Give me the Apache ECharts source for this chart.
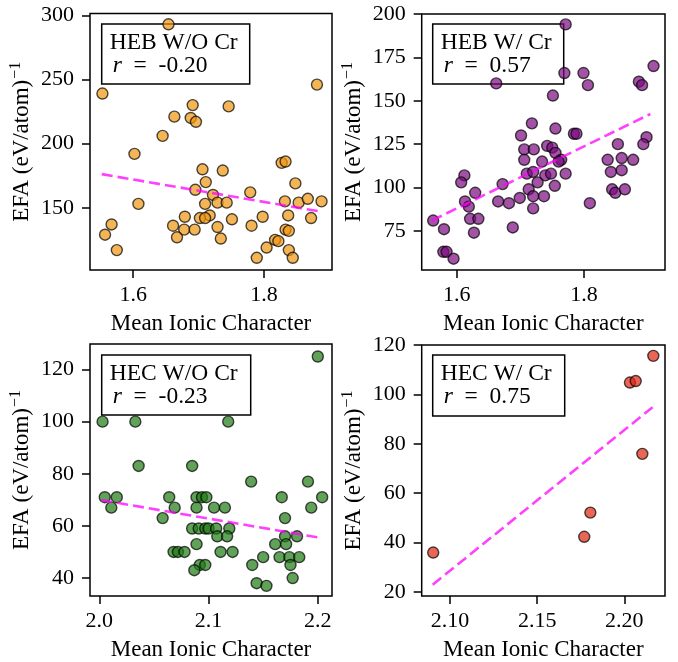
<!DOCTYPE html>
<html>
<head>
<meta charset="utf-8">
<script src="https://cdn.jsdelivr.net/npm/echarts@6/dist/echarts.min.js"></script>
<style>
  html, body { margin: 0; padding: 0; background: #fff; }
  #chart { width: 678px; height: 662px; }
</style>
</head>
<body>
<div id="chart"></div>
<script>
// HEB W/O Cr
const hebNoCrX = [1.654, 1.553, 1.881, 1.691, 1.746, 1.663, 1.688, 1.696, 1.645, 1.602, 1.827, 1.833, 1.706, 1.737, 1.711, 1.848, 1.695, 1.779, 1.722, 1.608, 1.710, 1.729, 1.743, 1.832, 1.853, 1.867, 1.888, 1.837, 1.872, 1.798, 1.781, 1.751, 1.717, 1.702, 1.710, 1.679, 1.661, 1.678, 1.694, 1.667, 1.729, 1.734, 1.557, 1.567, 1.575, 1.833, 1.838, 1.817, 1.822, 1.804, 1.838, 1.844, 1.789];
const hebNoCrY = [293, 239, 246, 230, 229, 221, 220, 217, 206, 192, 185, 186, 180, 179, 170, 169, 164, 162, 160, 153, 153, 154, 154, 155, 154, 157, 155, 144, 142, 143, 136, 141, 144, 142, 142, 143, 136, 133, 133, 127, 135, 126, 129, 137, 117, 133, 132, 125, 124, 119, 117, 111, 111];
const hebNoCrFitX = [1.552, 1.888];
const hebNoCrFitY = [176.2, 146.9];

// HEB W/ Cr
const hebCrX = [1.771, 1.909, 1.799, 1.806, 1.886, 1.891, 1.662, 1.769, 1.751, 1.718, 1.755, 1.701, 1.784, 1.788, 1.898, 1.893, 1.853, 1.706, 1.721, 1.742, 1.750, 1.755, 1.706, 1.734, 1.764, 1.760, 1.837, 1.859, 1.877, 1.842, 1.859, 1.710, 1.720, 1.739, 1.748, 1.771, 1.727, 1.754, 1.672, 1.612, 1.607, 1.629, 1.713, 1.844, 1.849, 1.864, 1.699, 1.720, 1.737, 1.665, 1.682, 1.613, 1.619, 1.720, 1.809, 1.563, 1.621, 1.634, 1.580, 1.627, 1.688, 1.579, 1.584, 1.595];
const hebCrY = [194, 170, 166, 159, 161, 159, 160, 166, 153, 137, 134, 130, 131, 131, 129, 125, 125, 122, 122, 124, 123, 120, 116, 115, 116, 115, 116, 117, 116, 109, 110, 108, 109, 107, 108, 108, 103, 101, 102, 107, 103, 97, 99, 99, 97, 99, 94, 95, 95, 92, 91, 92, 89, 88, 91, 81, 82, 82, 76, 74, 77, 63, 63, 59];
const hebCrFitX = [1.561, 1.904];
const hebCrFitY = [81.0, 142.4];

// HEC W/O Cr
const hecNoCrX = [2.200, 2.003, 2.033, 2.118, 2.036, 2.085, 2.139, 2.191, 2.005, 2.016, 2.011, 2.064, 2.069, 2.058, 2.089, 2.094, 2.098, 2.089, 2.105, 2.115, 2.167, 2.204, 2.194, 2.170, 2.085, 2.091, 2.097, 2.100, 2.107, 2.119, 2.108, 2.117, 2.170, 2.181, 2.089, 2.161, 2.171, 2.068, 2.072, 2.078, 2.111, 2.122, 2.150, 2.165, 2.174, 2.183, 2.175, 2.140, 2.092, 2.087, 2.097, 2.177, 2.144, 2.153];
const hecNoCrY = [125, 100, 100, 100, 83, 83, 77, 77, 71, 71, 67, 71, 67, 63, 71, 71, 71, 67, 67, 67, 71, 71, 67, 63, 59, 59, 59, 59, 59, 59, 56, 56, 56, 56, 53, 53, 53, 50, 50, 50, 50, 50, 48, 48, 48, 48, 45, 45, 45, 43, 45, 40, 38, 37];
const hecNoCrFitX = [2.002, 2.204];
const hecNoCrFitY = [69.9, 55.3];

// HEC W/ Cr
const hecCrX = [2.0904, 2.1770, 2.1805, 2.2032, 2.2065, 2.2103, 2.2166];
const hecCrY = [35.9, 42.3, 52.1, 104.8, 105.4, 75.9, 115.6];
const hecCrFitX = [2.0901, 2.2162];
const hecCrFitY = [22.9, 94.8];

// tick labels
const hebNoCrXTicks = [1.6, 1.8];
const hebNoCrYTicks = [150, 200, 250, 300];
const hebCrXTicks = [1.6, 1.8];
const hebCrYTicks = [75, 100, 125, 150, 175, 200];
const hecNoCrXTicks = [2.0, 2.1, 2.2];
const hecNoCrYTicks = [40, 60, 80, 100, 120];
const hecCrXTicks = [2.10, 2.15, 2.20];
const hecCrYTicks = [20, 40, 60, 80, 100, 120];

const titles = ["HEB W/O Cr", "HEB W/ Cr", "HEC W/O Cr", "HEC W/ Cr"];
const rValues = ["-0.20", "0.57", "-0.23", "0.75"];

const font = '"Liberation Serif", "Times New Roman", serif';

const panels = [
  { x: hebNoCrX, y: hebNoCrY, fx: hebNoCrFitX, fy: hebNoCrFitY, xt: hebNoCrXTicks, yt: hebNoCrYTicks, xd: 1,
    grid: { left: 90, top: 13.5, width: 242, height: 256.5 }, xr: [1.534, 1.904], yr: [101.5, 301.4],
    color: "#F0950F", box: [101.7, 24, 148, 60] },
  { x: hebCrX, y: hebCrY, fx: hebCrFitX, fy: hebCrFitY, xt: hebCrXTicks, yt: hebCrYTicks, xd: 1,
    grid: { left: 421.7, top: 14, width: 243.3, height: 256 }, xr: [1.545, 1.927], yr: [52.5, 200],
    color: "#7A0A80", box: [432.7, 24, 131, 60] },
  { x: hecNoCrX, y: hecNoCrY, fx: hecNoCrFitX, fy: hecNoCrFitY, xt: hecNoCrXTicks, yt: hecNoCrYTicks, xd: 1,
    grid: { left: 90, top: 344, width: 242, height: 256 }, xr: [1.9915, 2.213], yr: [33.1, 129.8],
    color: "#1E7A12", box: [101.7, 355, 149, 60] },
  { x: hecCrX, y: hecCrY, fx: hecCrFitX, fy: hecCrFitY, xt: hecCrXTicks, yt: hecCrYTicks, xd: 2,
    grid: { left: 421.7, top: 345, width: 243.3, height: 256 }, xr: [2.0838, 2.2233], yr: [18.3, 120],
    color: "#E0250F", box: [432.7, 355, 132, 61] },
];

const chart = echarts.init(document.getElementById("chart"), null, { renderer: "canvas" });

const grids = [], xAxes = [], yAxes = [], series = [], graphics = [];

panels.forEach((p, i) => {
  grids.push(Object.assign({ show: true, borderColor: "#000", borderWidth: 1.5, backgroundColor: "#fff" }, p.grid));
  xAxes.push({
    type: "value", gridIndex: i, min: p.xr[0], max: p.xr[1],
    name: "Mean Ionic Character", nameLocation: "middle", nameGap: 42,
    nameTextStyle: { fontFamily: font, fontSize: 23, color: "#000" },
    axisLine: { show: false },
    axisTick: { show: true, inside: false, length: 8, customValues: p.xt, lineStyle: { color: "#000", width: 1.5 } },
    axisLabel: { customValues: p.xt, margin: 14, fontFamily: font, fontSize: 22, color: "#000",
      formatter: (v) => v.toFixed(p.xd) },
    splitLine: { show: false },
  });
  yAxes.push({
    type: "value", gridIndex: i, min: p.yr[0], max: p.yr[1],
    name: "{n|EFA (eV/atom)}{s|−1}", nameLocation: "middle", nameGap: 54,
    nameTextStyle: { color: "#000", rich: {
      n: { fontFamily: font, fontSize: 23, color: "#000" },
      s: { fontFamily: font, fontSize: 16, color: "#000", padding: [0, 0, 12, 1] },
    } },
    axisLine: { show: false },
    axisTick: { show: true, inside: false, length: 8, customValues: p.yt, lineStyle: { color: "#000", width: 1.5 } },
    axisLabel: { customValues: p.yt, margin: 16, fontFamily: font, fontSize: 22, color: "#000" },
    splitLine: { show: false },
  });
  series.push({
    type: "scatter", xAxisIndex: i, yAxisIndex: i, symbol: "circle", symbolSize: 11,
    data: p.x.map((v, k) => [v, p.y[k]]),
    itemStyle: { color: p.color, opacity: 0.7, borderColor: "#000", borderWidth: 1.4 },
    emphasis: { disabled: true }, z: 2,
  });
  series.push({
    type: "line", xAxisIndex: i, yAxisIndex: i, symbol: "none",
    data: p.fx.map((v, k) => [v, p.fy[k]]),
    lineStyle: { color: "#FF00FF", opacity: 0.75, width: 2.6, type: [11, 5] },
    z: 3, silent: true,
  });
  const b = p.box;
  graphics.push({
    type: "group", x: b[0], y: b[1], z: 10,
    children: [
      { type: "rect", shape: { x: 0, y: 0, width: b[2], height: b[3] },
        style: { fill: "#fff", stroke: "#000", lineWidth: 1.5 } },
      { type: "text", x: 8, y: 18.5,
        style: { text: titles[i], font: "23.5px " + font, fill: "#000", verticalAlign: "middle" } },
      { type: "text", x: 11, y: 41.5,
        style: { text: "{i|r}  =  " + rValues[i], fill: "#000", verticalAlign: "middle",
          font: "23.5px " + font,
          rich: { i: { fontFamily: font, fontSize: 23.5, fontStyle: "italic", fill: "#000" } } } },
    ],
  });
});

chart.setOption({
  backgroundColor: "#fff",
  animation: false,
  grid: grids,
  xAxis: xAxes,
  yAxis: yAxes,
  series: series,
  graphic: graphics,
});
</script>
</body>
</html>
